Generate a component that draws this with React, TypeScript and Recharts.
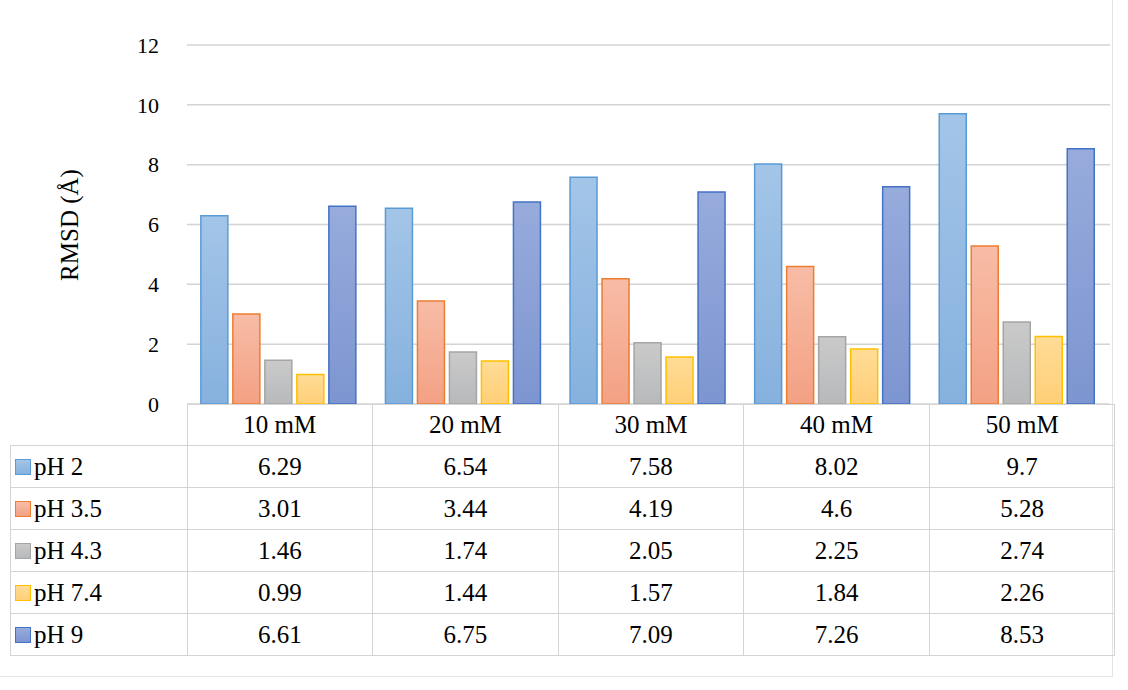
import { BarChart, Bar, XAxis, YAxis, CartesianGrid } from 'recharts'

const categories = ['10 mM', '20 mM', '30 mM', '40 mM', '50 mM']
const seriesNames = ['pH 2', 'pH 3.5', 'pH 4.3', 'pH 7.4', 'pH 9']
const ph2 = [6.29, 6.54, 7.58, 8.02, 9.7]
const ph35 = [3.01, 3.44, 4.19, 4.6, 5.28]
const ph43 = [1.46, 1.74, 2.05, 2.25, 2.74]
const ph74 = [0.99, 1.44, 1.57, 1.84, 2.26]
const ph9 = [6.61, 6.75, 7.09, 7.26, 8.53]
const yTicks = [0, 2, 4, 6, 8, 10, 12]

const values = [ph2, ph35, ph43, ph74, ph9]
const keys = ['s0', 's1', 's2', 's3', 's4']
const styles = [
  { top: '#a3c5e8', bottom: '#86b1de', stroke: '#5b9bd5' },
  { top: '#f8bca6', bottom: '#f3a184', stroke: '#ed7d31' },
  { top: '#cacaca', bottom: '#b7b9bb', stroke: '#a5a5a5' },
  { top: '#ffdc96', bottom: '#ffcf78', stroke: '#ffc000' },
  { top: '#97abdc', bottom: '#7d95d0', stroke: '#4472c4' },
]

const data = categories.map((c, i) => {
  const row: Record<string, string | number> = { name: c }
  keys.forEach((k, s) => { row[k] = values[s][i] })
  return row
})

const font = "'Times New Roman', 'Liberation Serif', 'DejaVu Serif', serif"
const line = '#d4d4d4'
const left = 187
const right = 1110
const colW = (right - left) / categories.length
const cell = { border: `1.5px solid ${line}`, padding: 0, fontFamily: font, fontSize: 25 }

export default function App() {
  return (
    <div style={{ position: 'fixed', left: 0, top: 0, width: 1128, height: 690, background: '#fff', fontFamily: font }}>
      <div style={{ position: 'absolute', left: 0, top: 0, width: 1112, height: 676, borderRight: '1px solid #e4e4e4', borderBottom: '1px solid #e4e4e4' }} />
      <div style={{ position: 'absolute', left: 70, top: 225, transform: 'translate(-50%, -50%) rotate(-90deg)', fontSize: 25, whiteSpace: 'nowrap' }}>RMSD (Å)</div>
      <BarChart
        width={1128}
        height={420}
        data={data}
        margin={{ top: 45, right: 18, bottom: 16, left: 0 }}
        barCategoryGap="7.5%"
        barGap={5}
        style={{ position: 'absolute', left: 0, top: 0, fontFamily: font }}
      >
        <defs>
          {styles.map((s, i) => (
            <linearGradient key={i} id={`g${i}`} x1="0" y1="0" x2="0" y2="1">
              <stop offset="0%" stopColor={s.top} />
              <stop offset="100%" stopColor={s.bottom} />
            </linearGradient>
          ))}
        </defs>
        <CartesianGrid vertical={false} stroke={line} strokeWidth={1.5} />
        <XAxis dataKey="name" hide height={0} />
        <YAxis
          width={left}
          domain={[0, 12]}
          ticks={yTicks}
          interval={0}
          axisLine={false}
          tickLine={false}
          tick={{ fontSize: 22, fill: '#000', fontFamily: font }}
          tickMargin={22}
        />
        {keys.map((k, i) => (
          <Bar key={k} dataKey={k} fill={`url(#g${i})`} stroke={styles[i].stroke} strokeWidth={1.5} isAnimationActive={false} />
        ))}
      </BarChart>
      <table style={{ position: 'absolute', left: 10, top: 404, borderCollapse: 'collapse', tableLayout: 'fixed', fontFamily: font }}>
        <tbody>
          <tr style={{ height: 41 }}>
            <td style={{ ...cell, width: left - 11, border: 'none', borderRight: `1.5px solid ${line}` }} />
            {categories.map(c => (
              <td key={c} style={{ ...cell, width: colW, textAlign: 'center' }}>{c}</td>
            ))}
          </tr>
          {seriesNames.map((n, s) => (
            <tr key={n} style={{ height: 42 }}>
              <td style={{ ...cell, whiteSpace: 'nowrap' }}>
                <span style={{ display: 'inline-block', width: 14, height: 14, marginLeft: 4, marginRight: 3, background: `linear-gradient(${styles[s].top}, ${styles[s].bottom})`, border: `1.5px solid ${styles[s].stroke}` }} />
                {n}
              </td>
              {values[s].map((v, i) => (
                <td key={i} style={{ ...cell, textAlign: 'center' }}>{v}</td>
              ))}
            </tr>
          ))}
        </tbody>
      </table>
    </div>
  )
}
